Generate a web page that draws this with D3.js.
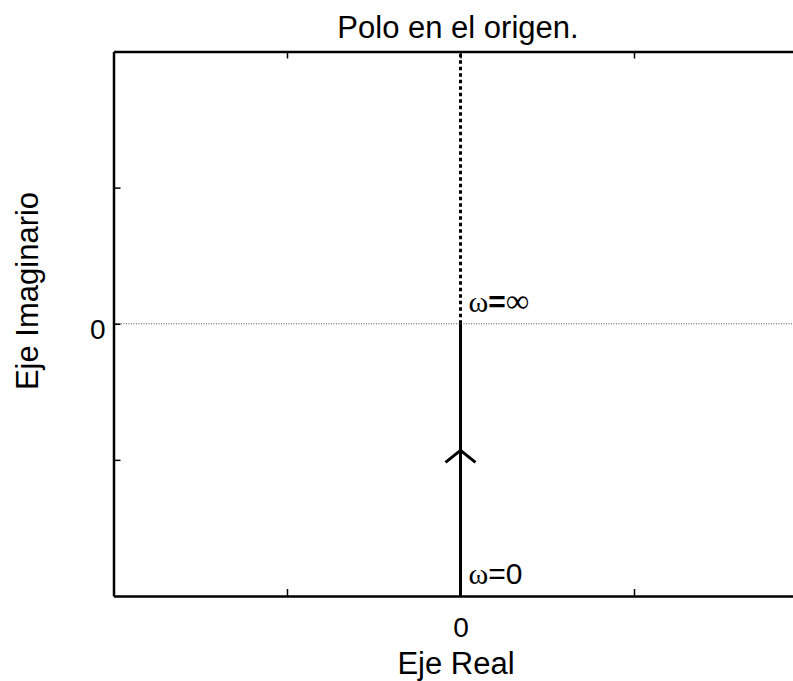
<!DOCTYPE html>
<html>
<head>
<meta charset="utf-8">
<script src="https://cdn.jsdelivr.net/npm/d3@7"></script>
<style>
  html, body { margin: 0; padding: 0; background: #fff; }
  svg { display: block; }
  text { font-family: Arial, "Liberation Sans", sans-serif; fill: #000; }
</style>
</head>
<body>
<svg id="chart" width="793" height="681"></svg>
<script>
// Nyquist diagram of a pole at the origin, G(s) = 1/s.
// Positive frequencies (w: 0 -> inf) run up the negative imaginary axis.
const posRe = [0, 0];
const posIm = [-2, 0];
// Mirror branch for negative frequencies, drawn dotted.
const negRe = [0, 0];
const negIm = [0, 2];
// Direction arrow on the positive branch.
const arrowRe = [0];
const arrowIm = [-0.93];
// Frequency annotations.
const annotText = ["ω=∞", "ω=0"];
const annotRe = [0, 0];
const annotIm = [0, -2];
// Axis ticks (only the zero tick carries a label).
const xTicks = [-1, 0, 1];
const yTicks = [-1, 0, 1];
const tickLabels = { "0": "0" };
const xDomain = [-2, 2];
const yDomain = [-2, 2];

const svg = d3.select("#chart");
const mLeft = 113.5, mRight = 807.5, mTop = 51.5, mBottom = 596;

const x = d3.scaleLinear().domain(xDomain).range([mLeft, mRight]);
const y = d3.scaleLinear().domain(yDomain).range([mBottom, mTop]);

const plot = svg.append("g");

// Horizontal reference line through the origin
plot.append("line")
  .attr("x1", x(xDomain[0])).attr("x2", x(xDomain[1]))
  .attr("y1", y(0)).attr("y2", y(0))
  .attr("stroke", "#555").attr("stroke-width", 1)
  .attr("stroke-dasharray", "1,1.5");

const line = d3.line().x(d => x(d[0])).y(d => y(d[1]));

// Negative-frequency branch (dotted)
plot.append("path")
  .datum(negRe.map((r, i) => [r, negIm[i]]))
  .attr("d", line)
  .attr("fill", "none").attr("stroke", "#000")
  .attr("stroke-width", 3).attr("stroke-dasharray", "3.5,3");

// Positive-frequency branch (solid)
plot.append("path")
  .datum(posRe.map((r, i) => [r, posIm[i]]))
  .attr("d", line)
  .attr("fill", "none").attr("stroke", "#000")
  .attr("stroke-width", 3);

// Arrow heads
arrowRe.forEach((r, i) => {
  const cx = x(r), cy = y(arrowIm[i]);
  plot.append("path")
    .attr("d", `M${cx - 15},${cy + 12}L${cx},${cy}L${cx + 15},${cy + 12}`)
    .attr("fill", "none").attr("stroke", "#000").attr("stroke-width", 3);
});

// Frequency labels
annotText.forEach((t, i) => {
  const tx = plot.append("text")
    .attr("x", x(annotRe[i]) + 8)
    .attr("y", y(annotIm[i]) - 12)
    .style("font-size", "30px");
  const parts = t.split("=");
  tx.append("tspan").text(parts[0])
    .style("font-family", "'Liberation Serif', 'DejaVu Serif', serif");
  if (parts[1] === "∞") {
    tx.append("tspan").text("=").style("font-weight", "bold");
    tx.append("tspan").text(parts[1])
      .style("font-family", "'Liberation Serif', 'DejaVu Serif', serif")
      .style("font-size", "33px");
  } else {
    tx.append("tspan").text("=" + parts[1]);
  }
});

// Axes frame with inward ticks
const frame = svg.append("g");
const tickLen = 7;

const xAxisB = d3.axisBottom(x).tickValues(xTicks).tickSizeInner(-tickLen).tickSizeOuter(0)
  .tickFormat(d => tickLabels[String(d)] || "");
const xAxisT = d3.axisTop(x).tickValues(xTicks).tickSizeInner(-tickLen).tickSizeOuter(0)
  .tickFormat("");
const yAxisL = d3.axisLeft(y).tickValues(yTicks).tickSizeInner(-tickLen).tickSizeOuter(0)
  .tickFormat(d => tickLabels[String(d)] || "");

const gb = frame.append("g").attr("transform", `translate(0,${mBottom})`).call(xAxisB);
const gt = frame.append("g").attr("transform", `translate(0,${mTop})`).call(xAxisT);
const gl = frame.append("g").attr("transform", `translate(${mLeft},0)`).call(yAxisL);

[gb, gt, gl].forEach(g => {
  g.select(".domain").attr("stroke", "#000").attr("stroke-width", 2.5);
  g.selectAll(".tick line").attr("stroke", "#000").attr("stroke-width", 1.5);
  g.selectAll(".tick text").style("font-family", "Arial, 'Liberation Sans', sans-serif")
    .style("font-size", "28px").attr("fill", "#000");
});
gb.selectAll(".tick text").attr("dy", null).attr("y", 0).attr("transform", "translate(0,41)");
gl.selectAll(".tick text").attr("dy", null).attr("x", -8).attr("y", 0).attr("transform", "translate(0,15)");

// Title and axis labels
svg.append("text").attr("x", 458).attr("y", 38)
  .attr("text-anchor", "middle").style("font-size", "31px")
  .text("Polo en el origen.");

svg.append("text").attr("x", 456).attr("y", 674)
  .attr("text-anchor", "middle").style("font-size", "31px")
  .text("Eje Real");

svg.append("text")
  .attr("transform", "translate(38,291) rotate(-90)")
  .attr("text-anchor", "middle").style("font-size", "31px")
  .text("Eje Imaginario");
</script>
</body>
</html>
